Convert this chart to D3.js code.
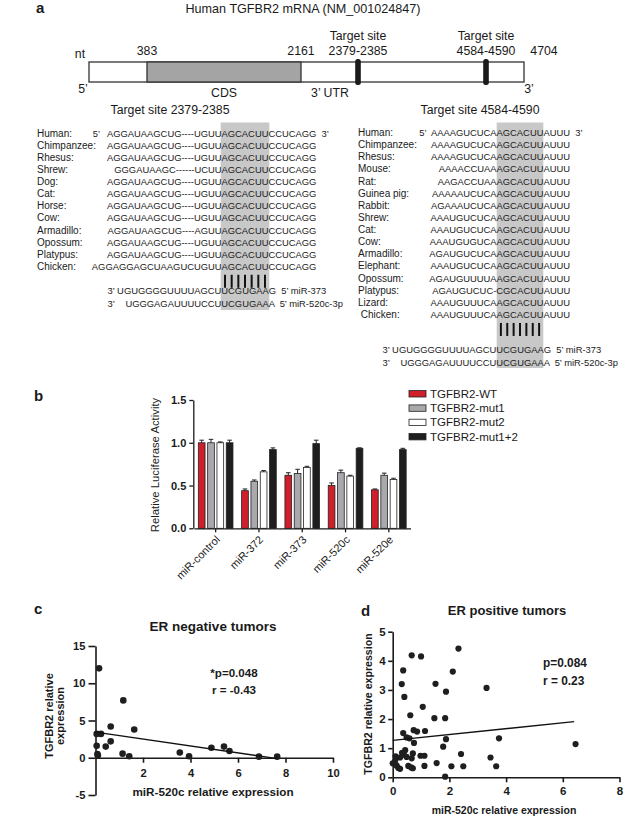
<!DOCTYPE html>
<html><head><meta charset="utf-8">
<script src="https://cdn.jsdelivr.net/npm/d3@7/dist/d3.min.js"></script>
<style>
body{margin:0;background:#fff;}
svg text{font-family:"Liberation Sans",Arial,Helvetica,sans-serif;fill:#1a1a1a;}
.pre{white-space:pre;}
</style></head><body>
<svg id="fig" width="625" height="816"></svg>
<script>
// ================= DATA =================
// Panel a: mRNA schematic
const mrnaTitle = "Human TGFBR2 mRNA (NM_001024847)";
const mrnaLandmarks = [1, 383, 2161, 2382, 4587, 4704];
const cdsRange = [383, 2161];
const targetSites = [2382, 4587];
const targetSiteLabels = ["2379-2385", "4584-4590"];

// Panel a: alignments, site 1
const site1Title = "Target site 2379-2385";
const site1Species = ["Human:","Chimpanzee:","Rhesus:","Shrew:","Dog:","Cat:","Horse:","Cow:","Armadillo:","Opossum:","Platypus:","Chicken:"];
const site1Upstream = ["5’   AGGAUAAGCUG----UGUU","AGGAUAAGCUG----UGUU","AGGAUAAGCUG----UGUU","GGGAUAAGC------UCUU","AGGAUAAGCUG----UGUU","AGGAUAAGCUG----UGUU","AGGAUAAGCUG----UGUU","AGGAUAAGCUG----UGUU","AGGAUAAGCUG----AGUU","AGGAUAAGCUG----UGUU","AGGAUAAGCUG----UGUU","AGGAGGAGCUAAGUCUGUU"];
const site1Seed = ["AGCACUU","AGCACUU","AGCACUU","AGCACUU","AGCACUU","AGCACUU","AGCACUU","AGCACUU","AGCACUU","AGCACUU","AGCACUU","AGCACUU"];
const site1Downstream = ["CCUCAGG  3’","CCUCAGG","CCUCAGG","CCUCAGG","CCUCAGG","CCUCAGG","CCUCAGG","CCUCAGG","CCUCAGG","CCUCAGG","CCUCAGG","CCUCAGG"];

// Panel a: alignments, site 2
const site2Title = "Target site 4584-4590";
const site2Species = ["Human:","Chimpanzee:","Rhesus:","Mouse:","Rat:","Guinea pig:","Rabbit:","Shrew:","Cat:","Cow:","Armadillo:","Elephant:","Opossum:","Platypus:","Lizard:"," Chicken:"];
const site2Upstream = ["5’  AAAAGUCUCA","AAAAGUCUCA","AAAAGUCUCA","AAAACCUAA","AAGACCUAA","AAAAAUCUCA","AGAAAUCUCA","AAAUGUCUCA","AAAUGUCUCA","AAAUGUGUCA","AGAUGUCUCA","AAAUGUCUCA","AGAUGUUUUA","AGAUGUCUC-","AAAUGUUUCA","AAAUGUUUCA"];
const site2Seed = ["AGCACUU","AGCACUU","AGCACUU","AGCACUU","AGCACUU","AGCACUU","AGCACUU","AGCACUU","AGCACUU","AGCACUU","AGCACUU","AGCACUU","AGCACUU","CGCACUU","AGCACUU","AGCACUU"];
const site2Downstream = ["AUUU  3’","AUUU","AUUU","AUUU","AUUU","AUUU","AUUU","AUUU","AUUU","AUUU","AUUU","AUUU","AUUU","AUUU","AUUU","AUUU"];

// miRNAs (3'->5')
const mirnaNames = ["miR-373","miR-520c-3p"];
const mirnaUpstream = ["3’ UGUGGGGUUUUAGCU","UGGGAGAUUUUCCU"];
const mirnaSeed = ["UCGUGAA","UCGUGAA"];
const mirnaDownstream = ["G  5’ miR-373","A  5’ miR-520c-3p"];
const seedPairs = 7;

// Panel b: luciferase
const groups = ["miR-control","miR-372","miR-373","miR-520c","miR-520e"];
const seriesNames = ["TGFBR2-WT","TGFBR2-mut1","TGFBR2-mut2","TGFBR2-mut1+2"];
const wtValues    = [1.00, 0.44, 0.62, 0.50, 0.45];
const wtErr       = [0.03, 0.02, 0.03, 0.03, 0.01];
const mut1Values  = [1.00, 0.55, 0.64, 0.65, 0.62];
const mut1Err     = [0.04, 0.015, 0.05, 0.03, 0.025];
const mut2Values  = [1.00, 0.66, 0.71, 0.61, 0.57];
const mut2Err     = [0.01, 0.015, 0.015, 0.01, 0.015];
const mut12Values = [1.00, 0.92, 0.99, 0.935, 0.92];
const mut12Err    = [0.03, 0.02, 0.04, 0.006, 0.015];
const bTicks = [0, 0.5, 1.0, 1.5];

// Panel c: ER negative
const cX = [0.15,1.17,0.64,1.63,0.05,0.23,0.64,0.05,0.43,0.08,0.10,1.14,1.42,3.55,3.94,4.88,5.41,5.64,6.88,7.65];
const cY = [12.0,7.7,4.2,3.8,3.2,3.2,2.2,1.6,1.5,0.5,0.3,0.55,0.2,0.7,0.2,1.35,1.5,0.9,0.15,0.15];
const cFit = [3.45, -0.466]; // intercept, slope
const cFitRange = [0, 7.65];
const cXTicks = [2,4,6,8,10];
const cYTicks = [-5,0,5,10,15];
const cStats = ["*p=0.048","r = -0.43"];

// Panel d: ER positive
const dX = [0.67,1.00,2.32,0.37,2.12,0.32,1.51,1.88,3.31,0.41,1.06,0.62,1.47,1.85,0.37,0.74,0.86,1.14,0.49,0.59,1.88,0.75,3.75,1.78,0.44,0.33,0.39,0.71,0.49,0.15,0.26,0.67,0.98,1.12,2.41,3.45,0.00,0.14,0.20,0.26,0.55,0.65,0.71,1.12,1.55,2.07,2.49,3.65,1.85,6.45,0.10,0.08];
const dY = [4.19,4.15,4.42,3.67,3.63,3.20,3.21,2.94,3.07,2.76,2.42,2.13,2.03,2.03,1.52,1.62,1.57,1.59,1.37,1.34,1.31,1.18,1.34,1.05,0.93,0.84,0.78,0.82,0.70,0.68,0.68,0.65,0.74,0.74,0.80,0.68,0.48,0.40,0.32,0.29,0.39,0.34,0.31,0.39,0.49,0.38,0.38,0.38,0.02,1.14,0.72,0.55];
const dFit = [1.27, 0.10];
const dFitRange = [0, 6.4];
const dXTicks = [0,2,4,6,8];
const dYTicks = [0,1,2,3,4,5];
const dStats = ["p=0.084","r = 0.23"];

// ================= DRAW =================
const svg = d3.select("#fig");
const FONT = '"Liberation Sans",Arial,Helvetica,sans-serif';

function panelLabel(t, x, y){
  svg.append("text").attr("x",x).attr("y",y).text(t)
    .style("font-size","15px").style("font-weight","bold");
}

// ---------- Panel a ----------
panelLabel("a", 36, 13);
svg.append("text").attr("x",303).attr("y",13).attr("text-anchor","middle")
  .style("font-size","12.6px").text(mrnaTitle);

const nt = d3.scaleLinear().domain(mrnaLandmarks).range([89,147,301,358,486,524]);
const barTop = 62, barH = 20;
const ga = svg.append("g");
ga.append("rect").attr("x",nt(1)).attr("y",barTop).attr("width",nt(4704)-nt(1)).attr("height",barH)
  .attr("fill","#fff").attr("stroke","#333").attr("stroke-width",1.3);
ga.append("rect").attr("x",nt(cdsRange[0])).attr("y",barTop).attr("width",nt(cdsRange[1])-nt(cdsRange[0])).attr("height",barH)
  .attr("fill","#a4a4a4").attr("stroke","#333").attr("stroke-width",1.3);
ga.selectAll("rect.site").data(targetSites).join("rect").attr("class","site")
  .attr("x",d=>nt(d)-2.8).attr("y",barTop-3).attr("width",5.6).attr("height",barH+6).attr("rx",2.5)
  .attr("fill","#1a1a1a");
const aLab = (t,x,y,anchor)=>ga.append("text").attr("x",x).attr("y",y).attr("text-anchor",anchor||"middle").style("font-size","12.3px").attr("class","pre").text(t);
aLab("nt", nt(1)-9, 58);
aLab(String(cdsRange[0]), nt(cdsRange[0]), 54.5);
aLab(String(cdsRange[1]), nt(cdsRange[1]), 54.5);
targetSites.forEach((s,i)=>{ aLab("Target site", nt(s), 40); aLab(targetSiteLabels[i], nt(s), 54.5); });
aLab("4704", nt(4704)+20, 54.5);
aLab("5’", nt(1)-6, 93);
aLab("CDS", (nt(cdsRange[0])+nt(cdsRange[1]))/2, 96.5);
aLab("3’ UTR", 330, 96.5);
aLab("3’", nt(4704)+5, 93);

// alignments
function drawAlignment(opt){
  const g = svg.append("g");
  g.append("text").attr("x",opt.titleX).attr("y",114).attr("text-anchor","middle")
    .style("font-size","12.3px").text(opt.title);
  g.append("rect").attr("x",opt.hl[0]).attr("y",122.5).attr("width",opt.hl[1]-opt.hl[0]).attr("height",opt.hlBottom-122.5)
    .attr("fill","#c8c8c8");
  const cx = (opt.hl[0]+opt.hl[1])/2;
  const rowY = i => opt.y0 + opt.pitch*i;
  function seqRow(up, seed, down, y){
    const s = g.append("text").attr("x",cx).attr("y",y).attr("text-anchor","middle")
      .style("font-size","9.4px").text(seed);
    const w = s.node().getComputedTextLength();
    const u = g.append("text").attr("x",cx-w/2).attr("y",y).attr("text-anchor","end").attr("class","pre")
      .style("font-size","9.4px").text(up);
    g.append("text").attr("x",cx+w/2).attr("y",y).attr("text-anchor","start").attr("class","pre")
      .style("font-size","9.4px").text(down);
    return cx-w/2-u.node().getComputedTextLength();
  }
  opt.species.forEach((sp,i)=>{
    g.append("text").attr("x",opt.nameX).attr("y",rowY(i)).attr("class","pre").style("font-size","10px").text(sp);
    seqRow(opt.up[i], opt.seed[i], opt.down[i], rowY(i));
  });
  // pairing bars
  const lastY = rowY(opt.species.length-1);
  const bx = d3.scaleBand().domain(d3.range(seedPairs)).range([opt.hl[0]+1,opt.hl[1]-1]);
  g.selectAll("line.pair").data(d3.range(seedPairs)).join("line").attr("class","pair")
    .attr("x1",d=>bx(d)+bx.bandwidth()/2).attr("x2",d=>bx(d)+bx.bandwidth()/2)
    .attr("y1",lastY+5).attr("y2",lastY+18).attr("stroke","#111").attr("stroke-width",2);
  const my0 = lastY + opt.mirOffset;
  const start0 = seqRow(mirnaUpstream[0], mirnaSeed[0], mirnaDownstream[0], my0);
  seqRow(mirnaUpstream[1], mirnaSeed[1], mirnaDownstream[1], my0+12.6);
  g.append("text").attr("x",start0).attr("y",my0+12.6).style("font-size","9.4px").text("3’");
}
drawAlignment({title:site1Title, titleX:170, hl:[220.7,269.3], hlBottom:310, nameX:37, y0:137, pitch:12.07,
  species:site1Species, up:site1Upstream, seed:site1Seed, down:site1Downstream, mirOffset:24.5});
drawAlignment({title:site2Title, titleX:480, hl:[496.7,543.3], hlBottom:368, nameX:358, y0:136, pitch:12.13,
  species:site2Species, up:site2Upstream, seed:site2Seed, down:site2Downstream, mirOffset:35});

// ---------- Panel b ----------
panelLabel("b", 34, 401);
const bVals = [wtValues, mut1Values, mut2Values, mut12Values];
const bErrs = [wtErr, mut1Err, mut2Err, mut12Err];
const bColors = ["#cf1f2b","#a8a8ad","#ffffff","#1e1e1e"];
const bData = [];
groups.forEach((gname,gi)=>seriesNames.forEach((s,si)=>bData.push({g:gname,s,v:bVals[si][gi],e:bErrs[si][gi],c:bColors[si]})));
const xb = d3.scaleBand().domain(groups).range([194,410.5]).paddingInner(0.2).paddingOuter(0.1);
const xs = d3.scaleBand().domain(seriesNames).range([0,xb.bandwidth()]).paddingInner(0.28);
const yb = d3.scaleLinear().domain([0,1.5]).range([528.3,400]);
const gb = svg.append("g");
gb.selectAll("rect.bar").data(bData).join("rect").attr("class","bar")
  .attr("x",d=>xb(d.g)+xs(d.s)).attr("width",xs.bandwidth())
  .attr("y",d=>yb(d.v)).attr("height",d=>yb(0)-yb(d.v))
  .attr("fill",d=>d.c).attr("stroke","#222").attr("stroke-width",0.8);
gb.selectAll("path.err").data(bData).join("path").attr("class","err")
  .attr("d",d=>{const cx=xb(d.g)+xs(d.s)+xs.bandwidth()/2, t=yb(d.v+d.e), b=yb(d.v);
     return `M${cx},${b}V${t}M${cx-2.3},${t}H${cx+2.3}`;})
  .attr("stroke","#222").attr("stroke-width",1).attr("fill","none");
const axB = gb.append("g").attr("transform",`translate(0,${yb(0)})`)
  .call(d3.axisBottom(xb).tickSize(4).tickSizeOuter(0));
axB.selectAll("text").attr("x",0).attr("y",0).attr("dy",0)
  .attr("transform","translate(5,12) rotate(-45)").attr("text-anchor","end")
  .style("font-size","11px").style("font-family",FONT).attr("fill","#1a1a1a");
const ayB = gb.append("g").attr("transform","translate(193.3,0)")
  .call(d3.axisLeft(yb).tickValues(bTicks).tickFormat(d3.format(".1f")).tickSize(4).tickPadding(3).tickSizeOuter(0));
ayB.selectAll("text").style("font-size","11px").style("font-weight","bold").style("font-family",FONT).attr("fill","#1a1a1a");
[axB,ayB].forEach(a=>{a.selectAll("path,line").attr("stroke","#1a1a1a").attr("stroke-width",1.3);});
gb.append("text").attr("transform","translate(159,465) rotate(-90)").attr("text-anchor","middle")
  .style("font-size","11.3px").text("Relative Luciferase Activity");
const legend = gb.selectAll("g.leg").data(seriesNames).join("g").attr("class","leg")
  .attr("transform",(d,i)=>`translate(409,${393.8+i*14.3})`);
legend.append("rect").attr("x",0).attr("y",-3.2).attr("width",17).attr("height",6.4)
  .attr("fill",(d,i)=>bColors[i]).attr("stroke","#222").attr("stroke-width",0.8);
legend.append("text").attr("x",21).attr("y",4).style("font-size","11.5px").text(d=>d);

// ---------- scatter helper ----------
const intFmt = d => String(d);
function scatter(o){
  const g = svg.append("g");
  const x = d3.scaleLinear().domain(o.xDom).range(o.xRange);
  const y = d3.scaleLinear().domain(o.yDom).range(o.yRange);
  const ax = g.append("g").attr("transform",`translate(0,${y(0)})`)
    .call(d3.axisBottom(x).tickValues(o.xTicks).tickFormat(intFmt).tickSize(o.xTickSize).tickPadding(o.xPad).tickSizeOuter(0));
  const ay = g.append("g").attr("transform",`translate(${x(0)},0)`)
    .call(d3.axisLeft(y).tickValues(o.yTicks).tickFormat(intFmt).tickSize(o.yTickSize).tickPadding(o.yPad).tickSizeOuter(0));
  [ax,ay].forEach(a=>{
    a.selectAll("path,line").attr("stroke","#1a1a1a").attr("stroke-width",1.6);
    a.selectAll("text").style("font-size",o.tickFont).style("font-weight","bold").style("font-family",FONT).attr("fill","#1a1a1a");
  });
  g.selectAll("circle").data(o.xs.map((v,i)=>[v,o.ys[i]])).join("circle")
    .attr("cx",d=>x(d[0])).attr("cy",d=>y(d[1])).attr("r",o.r).attr("fill","#1f1f1f");
  g.append("line").attr("x1",x(o.fitRange[0])).attr("y1",y(o.fit[0]+o.fit[1]*o.fitRange[0]))
    .attr("x2",x(o.fitRange[1])).attr("y2",y(o.fit[0]+o.fit[1]*o.fitRange[1]))
    .attr("stroke","#111").attr("stroke-width",1.3);
  g.append("text").attr("x",o.titlePos[0]).attr("y",o.titlePos[1]).attr("text-anchor","middle")
    .style("font-size",o.titleFont).style("font-weight","bold").text(o.title);
  g.append("text").attr("x",o.xLabPos[0]).attr("y",o.xLabPos[1]).attr("text-anchor","middle")
    .style("font-size",o.labFont).style("font-weight","bold").text(o.xLab);
  o.yLab.forEach((t,i)=>g.append("text").attr("transform",`translate(${o.yLabPos[i][0]},${o.yLabPos[i][1]}) rotate(-90)`)
    .attr("text-anchor","middle").style("font-size",o.yLabFont).style("font-weight","bold").text(t));
  o.stats.forEach((t,i)=>g.append("text").attr("x",o.statPos[0]).attr("y",o.statPos[1]+i*o.statGap)
    .attr("text-anchor",o.statAnchor).attr("class","pre").style("font-size",o.statFont).style("font-weight","bold").text(t));
}

// ---------- Panel c ----------
panelLabel("c", 34, 614);
scatter({xDom:[0,10], xRange:[95.5,333], yDom:[-5,15], yRange:[795,646],
  xTicks:cXTicks, yTicks:cYTicks, xTickSize:5, xPad:6, yTickSize:7, yPad:3, tickFont:"11.2px",
  xs:cX, ys:cY, r:3.3, fit:cFit, fitRange:cFitRange,
  title:"ER negative tumors", titlePos:[213,630.5], titleFont:"13.5px",
  xLab:"miR-520c relative expression", xLabPos:[213,796], labFont:"11.7px",
  yLab:["TGFBR2 relative","expression"], yLabPos:[[53,716],[64,716]], yLabFont:"11px",
  stats:cStats, statPos:[234,677], statGap:16.5, statAnchor:"middle", statFont:"11.6px"});

// ---------- Panel d ----------
panelLabel("d", 361, 616);
scatter({xDom:[0,8], xRange:[392.7,619.5], yDom:[0,5], yRange:[777.3,631.7],
  xTicks:dXTicks, yTicks:dYTicks, xTickSize:5, xPad:5, yTickSize:4.5, yPad:2.5, tickFont:"11.5px",
  xs:dX, ys:dY, r:3.1, fit:dFit, fitRange:dFitRange,
  title:"ER positive tumors", titlePos:[507,615], titleFont:"13px",
  xLab:"miR-520c relative expression", xLabPos:[504,814], labFont:"10.5px",
  yLab:["TGFBR2 relative expression"], yLabPos:[[372,704]], yLabFont:"10.6px",
  stats:dStats, statPos:[543,667], statGap:18, statAnchor:"start", statFont:"11.9px"});
</script>
</body></html>
